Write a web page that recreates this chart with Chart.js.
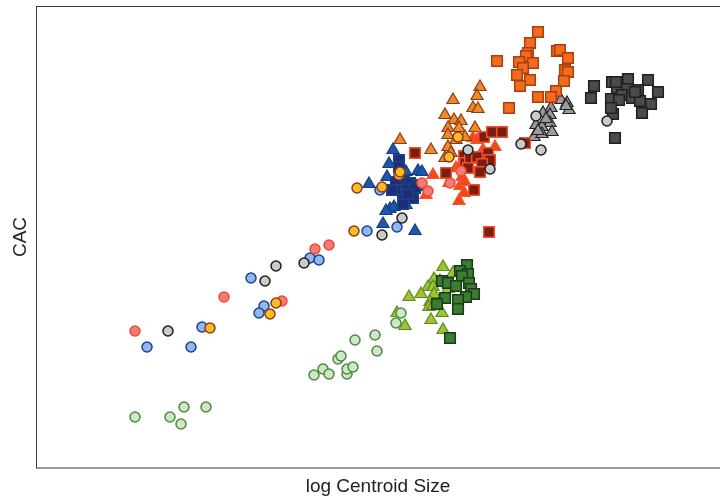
<!DOCTYPE html>
<html>
<head>
<meta charset="utf-8">
<script src="https://cdn.jsdelivr.net/npm/chart.js@4/dist/chart.umd.min.js"></script>
<style>
  html, body { margin: 0; padding: 0; background: #ffffff; overflow: hidden; }
  #wrap { width: 720px; height: 498px; }
  canvas { display: block; }
</style>
</head>
<body>
<div id="wrap"><canvas id="chart"></canvas></div>
<script>
// values, in plot units (x: log centroid size, y: CAC, no ticks shown)
const greenCircles = [[99,51],[134,51],[148,61],[145,44],[170,61],[278,93],[287,99],[293,94],[302,109],[305,112],[311,94],[311,99],[317,101],[319,128],[339,133],[341,117],[360,145],[365,155]];
const greenTriangles = [[407,201],[417,195],[398,189],[404,187],[392,181],[397,181],[373,171],[385,174],[398,174],[412,179],[394,166],[393,161],[397,162],[406,155],[395,148],[361,155],[369,142],[407,138]];
const greenSquares = [[431,203],[424,197],[432,194],[426,192],[406,187],[412,185],[420,182],[433,185],[435,179],[438,174],[430,171],[422,168],[422,159],[409,170],[401,164],[414,130]];

const salmonCircles = [[99,137],[188,171],[246,167],[279,219],[293,223],[386,285],[392,277],[414,285],[425,297]];
const redTriangles = [[390,273],[397,293],[413,285],[420,300],[424,282],[423,267],[426,291],[429,286],[428,275],[424,302],[437,330],[441,328],[447,318],[459,321],[433,308]];
const darkRedSquares = [[379,315],[448,331],[456,336],[466,336],[428,312],[429,305],[434,310],[441,311],[452,315],[454,308],[446,304],[444,296],[432,300],[410,295],[438,278],[453,236],[489,325]];

const yellowCircles = [[174,140],[234,154],[240,165],[318,237],[321,280],[346,281],[363,293],[364,296],[413,311],[422,331]];
const orangeTriangles = [[444,381],[441,372],[417,368],[437,360],[442,359],[409,353],[418,348],[425,347],[412,340],[423,340],[439,340],[412,333],[429,331],[412,321],[409,310],[415,315],[395,318],[364,328],[420,328]];
const orangeSquares = [[502,436],[494,425],[492,415],[490,412],[483,406],[497,405],[487,400],[481,393],[494,388],[484,382],[461,407],[521,417],[524,418],[532,410],[529,398],[532,396],[528,387],[520,377],[515,371],[502,371],[473,360]];

const lightBlueCircles = [[111,121],[155,121],[166,141],[215,190],[228,162],[223,155],[274,210],[283,208],[331,237],[361,241],[344,278]];
const blueTriangles = [[357,318],[353,304],[333,284],[351,291],[370,296],[382,297],[386,296],[354,259],[358,261],[370,263],[347,244],[379,237],[350,257],[362,288]];
const navySquares = [[363,308],[363,301],[368,288],[360,286],[374,285],[382,283],[361,278],[370,278],[379,280],[377,270],[367,268],[367,264],[356,278],[372,274]];

const grayCircles = [[132,137],[229,187],[240,202],[268,205],[366,250],[346,233],[432,318],[454,299],[485,324],[500,352],[505,318],[571,347]];
const grayTriangles = [[525,368],[531,365],[533,358],[515,360],[507,355],[514,353],[500,343],[514,345],[506,341],[498,331],[506,334],[516,336],[502,337],[510,349],[530,362]];
const darkGraySquares = [[558,382],[555,370],[576,386],[592,389],[612,388],[622,376],[581,380],[591,379],[602,378],[586,373],[596,370],[604,367],[575,369],[583,368],[615,364],[606,355],[577,354],[575,360],[579,330],[599,376],[580,386]];

const xRange = [0, 684];
const yRange = [0, 462];

const shapes = {
  circle: { pointStyle: 'circle', pointRadius: 5, pointBorderWidth: 1.5 },
  triangle: { pointStyle: 'triangle', pointRadius: 7, pointBorderWidth: 1.2 },
  square: { pointStyle: 'rect', pointRadius: 7.5, pointBorderWidth: 1.5 }
};

function series(points, shape, fill, stroke) {
  return Object.assign({
    data: points.map(p => ({ x: p[0], y: p[1] })),
    backgroundColor: fill,
    borderColor: stroke
  }, shapes[shape]);
}

// first dataset is drawn on top
const datasets = [
  series(yellowCircles, 'circle', '#fbbb26', '#8e3b12'),
  series(grayCircles, 'circle', '#cacaca', '#1e1e1e'),
  series(salmonCircles, 'circle', '#f47b7b', '#ee4b2b'),
  series(lightBlueCircles, 'circle', '#8fb9e9', '#1f3f92'),
  series(greenCircles, 'circle', '#cde8c8', '#4f8a3f'),
  series(navySquares, 'square', '#1d2e79', '#1e4286'),
  series(darkRedSquares, 'square', '#7a1e10', '#f4502b'),
  series(orangeSquares, 'square', '#f26b1e', '#a9410f'),
  series(darkGraySquares, 'square', '#4b4b4b', '#202020'),
  series(greenSquares, 'square', '#3a7d33', '#1d3a1a'),
  series(orangeTriangles, 'triangle', '#eb8b2c', '#8e3b12'),
  series(redTriangles, 'triangle', '#f4471e', '#f4552c'),
  series(blueTriangles, 'triangle', '#2157a9', '#163b82'),
  series(grayTriangles, 'triangle', '#9b9b9b', '#232323'),
  series(greenTriangles, 'triangle', '#9dc433', '#5c8b1f')
];

const frame = {
  id: 'frame',
  afterDraw(chart) {
    const a = chart.chartArea;
    const ctx = chart.ctx;
    ctx.save();
    ctx.strokeStyle = '#3a3a3a';
    ctx.lineWidth = 1;
    ctx.strokeRect(a.left + 0.5, a.top + 0.5, a.right - a.left, a.bottom - a.top - 0.5);
    ctx.restore();
  }
};

new Chart(document.getElementById('chart'), {
  type: 'scatter',
  data: { datasets: datasets },
  options: {
    responsive: true,
    maintainAspectRatio: false,
    animation: false,
    events: [],
    layout: { autoPadding: false, padding: { top: 6, right: 0, bottom: 0, left: 0 } },
    plugins: {
      legend: { display: false },
      tooltip: { enabled: false }
    },
    scales: {
      x: {
        type: 'linear',
        min: xRange[0],
        max: xRange[1],
        ticks: { display: false },
        grid: { display: false },
        border: { display: false },
        title: {
          display: true,
          text: 'log Centroid Size',
          color: '#222222',
          font: { family: 'Liberation Sans, Arial, sans-serif', size: 19 },
          padding: { top: 0, bottom: 0 }
        },
        afterFit(scale) { scale.height = 30; }
      },
      y: {
        type: 'linear',
        min: yRange[0],
        max: yRange[1],
        ticks: { display: false },
        grid: { display: false },
        border: { display: false },
        title: {
          display: true,
          text: 'CAC',
          color: '#222222',
          font: { family: 'Liberation Sans, Arial, sans-serif', size: 19 },
          padding: { top: 9, bottom: 0 }
        },
        afterFit(scale) { scale.width = 36; }
      }
    }
  },
  plugins: [frame]
});
</script>
</body>
</html>
